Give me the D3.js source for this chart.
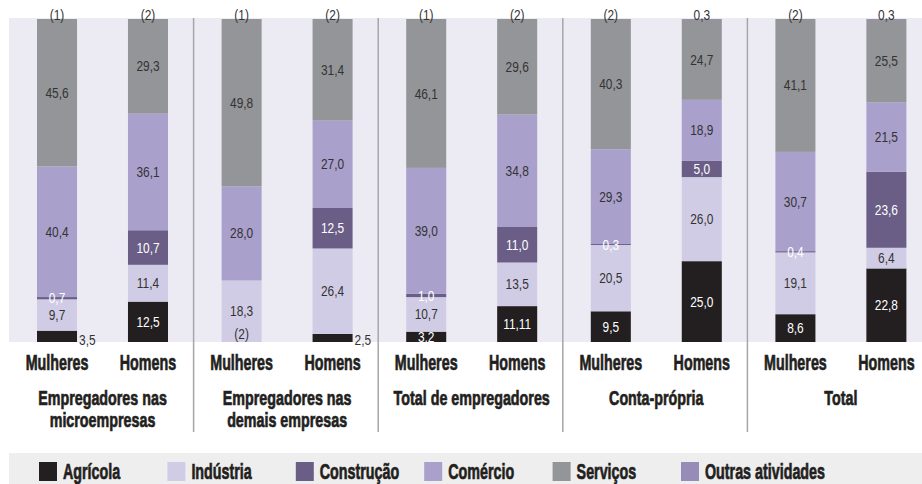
<!DOCTYPE html>
<html><head><meta charset="utf-8">
<script src="https://cdn.jsdelivr.net/npm/d3@7"></script>
<style>
html,body{margin:0;padding:0;background:#fff;}
svg{display:block;}
</style></head><body>
<svg id="chart" width="922" height="484"></svg>
<script>
// ---------- data ----------
const groups = ["Empregadores nas microempresas", "Empregadores nas demais empresas", "Total de empregadores", "Conta-própria", "Total"];
const groupTitleLines = [["Empregadores nas", "microempresas"], ["Empregadores nas", "demais empresas"], ["Total de empregadores"], ["Conta-própria"], ["Total"]];
const sexes = ["Mulheres", "Homens"];
const seriesNames = ["Agrícola", "Indústria", "Construção", "Comércio", "Serviços", "Outras atividades"];

// bar order: G1 Mulheres, G1 Homens, G2 Mulheres, G2 Homens, ...
const agricola   = [3.5, 12.5, null, 2.5, 3.2, 11.11, 9.5, 25.0, 8.6, 22.8];
const industria  = [9.7, 11.4, 18.3, 26.4, 10.7, 13.5, 20.5, 26.0, 19.1, 6.4];
const construcao = [0.7, 10.7, null, 12.5, 1.0, 11.0, 0.3, 5.0, 0.4, 23.6];
const comercio   = [40.4, 36.1, 28.0, 27.0, 39.0, 34.8, 29.3, 18.9, 30.7, 21.5];
const servicos   = [45.6, 29.3, 49.8, 31.4, 46.1, 29.6, 40.3, 24.7, 41.1, 25.5];
const outras     = [null, null, null, null, null, null, null, 0.3, null, 0.3];
const outrasNotes   = ["(1)", "(2)", "(1)", "(2)", "(1)", "(2)", "(2)", null, "(2)", null];
const agricolaNotes = [null, null, "(2)", null, null, null, null, null, null, null];

const seriesValues = [agricola, industria, construcao, comercio, servicos, outras];
const colors = ["#231f20", "#d1cce5", "#6a5e86", "#a9a0cc", "#939598", "#978bb8"];
const whiteLabelSeries = ["Agrícola", "Construção"];
const outsideLabelBars = [0, 3]; // small Agrícola values written beside the bar

// ---------- layout ----------
const W = 922, H = 484;
const panel = {x: 9, y: 18, right: 922, bottom: 342};
const FONT = "'Liberation Sans','Arial',sans-serif";
const HEAD_SX = 0.65, LABEL_SX = 0.85;

const svg = d3.select("#chart");

const bars = [];
groups.forEach((g, gi) => sexes.forEach((s, si) => {
  const i = gi * 2 + si;
  const row = {group: g, sex: s, i};
  seriesNames.forEach((k, ki) => row[k] = seriesValues[ki][i] || 0);
  bars.push(row);
}));

const x0 = d3.scaleBand().domain(groups).range([9, 932]);
const x1 = d3.scaleBand().domain(sexes).range([28, 159]).paddingInner(0.56);
const y = d3.scaleLinear().domain([0, 1]).range([panel.bottom, 19]);
const color = d3.scaleOrdinal().domain(seriesNames).range(colors);

const stack = d3.stack().keys(seriesNames).offset(d3.stackOffsetExpand);
const layers = stack(bars);

// helpers for condensed text
function headText(parent, x, yy, str, anchor, size) {
  const fs = size || 22;
  return parent.append("text")
    .attr("transform", `translate(${x},${yy}) scale(${HEAD_SX * 22 / fs},1)`)
    .attr("text-anchor", anchor || "middle")
    .attr("font-family", FONT).attr("font-size", fs).attr("font-weight", "bold")
    .attr("fill", "#231f20").attr("stroke", "#231f20").attr("stroke-width", 0.7)
    .text(str);
}
function labelText(parent, x, yy, str, anchor, fill, dy) {
  return parent.append("text")
    .attr("transform", `translate(${x},${yy}) scale(${LABEL_SX},1)`)
    .attr("dy", dy || 0)
    .attr("text-anchor", anchor || "middle")
    .attr("font-family", FONT).attr("font-size", 14)
    .attr("fill", fill || "#333333")
    .text(str);
}

// panel background
svg.append("rect").attr("x", panel.x).attr("y", panel.y)
  .attr("width", panel.right - panel.x).attr("height", panel.bottom - panel.y)
  .attr("fill", "#ecebf3");

// bars
const barX = d => x0(d.group) + x1(d.sex);
svg.append("g").selectAll("g").data(layers).join("g")
  .attr("fill", l => color(l.key))
  .selectAll("rect").data(l => l).join("rect")
  .attr("x", d => barX(d.data))
  .attr("width", x1.bandwidth())
  .attr("y", d => y(d[1]))
  .attr("height", d => Math.max(0, y(d[0]) - y(d[1])));

// dividers
svg.append("g").selectAll("line").data(groups.slice(1)).join("line")
  .attr("x1", g => x0(g)).attr("x2", g => x0(g))
  .attr("y1", panel.y).attr("y2", 432)
  .attr("stroke", "#a6a6a8").attr("stroke-width", 1.5);

// value labels
const fmt = v => (Number.isInteger(v) ? v.toFixed(1) : String(v)).replace(".", ",");
const lbl = svg.append("g");

layers.forEach((layer, ki) => {
  layer.forEach(d => {
    const i = d.data.i;
    const v = seriesValues[ki][i];
    if (v == null) return;
    const cx = barX(d.data) + x1.bandwidth() / 2;
    let tx = cx, ty = (y(d[0]) + y(d[1])) / 2, anchor = "middle", dy = "0.36em";
    let fill = whiteLabelSeries.includes(layer.key) ? "#ffffff" : "#333333";
    if (layer.key === "Outras atividades") {
      ty = 20; dy = "0"; fill = "#333333";
    } else if (layer.key === "Agrícola" && outsideLabelBars.includes(i)) {
      tx = barX(d.data) + x1.bandwidth() + 2; ty = 345; dy = "0"; anchor = "start"; fill = "#333333";
    }
    labelText(lbl, tx, ty, fmt(v), anchor, fill, dy);
  });
});
// note markers
bars.forEach(b => {
  const cx = barX(b) + x1.bandwidth() / 2;
  if (outrasNotes[b.i]) labelText(lbl, cx, 20, outrasNotes[b.i]);
  if (agricolaNotes[b.i]) labelText(lbl, cx, 339, agricolaNotes[b.i]);
});

// category axes (Mulheres / Homens)
groups.forEach(g => {
  const ax = svg.append("g").attr("transform", `translate(${x0(g)},${panel.bottom})`)
    .call(d3.axisBottom(x1).tickSize(0).tickPadding(0));
  ax.select(".domain").remove();
  ax.selectAll("text")
    .attr("y", 28).attr("dy", 0).attr("x", 0)
    .attr("font-family", FONT).attr("font-size", 22).attr("font-weight", "bold")
    .attr("fill", "#231f20").attr("stroke", "#231f20").attr("stroke-width", 0.7)
    .attr("transform", `scale(${HEAD_SX},1)`);
});

// group titles
groups.forEach((g, gi) => {
  const cx = x0(g) + (x1(sexes[0]) + x1(sexes[1]) + x1.bandwidth()) / 2;
  groupTitleLines[gi].forEach((line, li) => headText(svg, cx, 405 + li * 22, line, "middle", 21));
});

// legend
svg.append("rect").attr("x", 9).attr("y", 453).attr("width", W - 9).attr("height", H - 453)
  .attr("fill", "#eeeeee");
const leg = svg.append("g").selectAll("g").data(seriesNames).join("g")
  .attr("transform", (d, i) => `translate(${39 + i * 128.4},0)`);
leg.append("rect").attr("x", 0).attr("y", 462).attr("width", 18).attr("height", 19)
  .attr("fill", d => color(d));
leg.each(function (d) { headText(d3.select(this), 24, 479, d, "start"); });
</script>
</body></html>
